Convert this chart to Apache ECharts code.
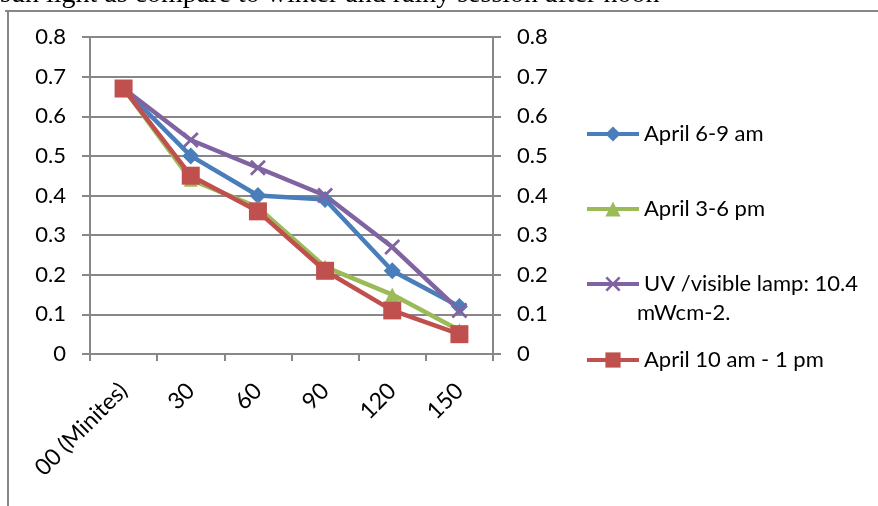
<!DOCTYPE html>
<html>
<head>
<meta charset="utf-8">
<script src="https://cdn.jsdelivr.net/npm/echarts@6/dist/echarts.min.js"></script>
<style>
html,body{margin:0;padding:0;background:#fff;}
#c{width:878px;height:506px;}
</style>
</head>
<body>
<div id="c"></div>
<script>
const categories = ['00 (Minites)', '30', '60', '90', '120', '150'];
const seriesNames = ['April 6-9 am', 'April 3-6 pm', 'UV /visible lamp: 10.4', 'April 10 am - 1 pm'];
const april69am = [0.67, 0.50, 0.40, 0.39, 0.21, 0.12];
const april36pm = [0.67, 0.44, 0.37, 0.22, 0.15, 0.06];
const uvLamp = [0.67, 0.54, 0.47, 0.40, 0.27, 0.11];
const april10am1pm = [0.67, 0.45, 0.36, 0.21, 0.11, 0.05];
const yMin = 0, yMax = 0.8, yStep = 0.1;
const headerText = 'sun light as compare to winter and rainy session after noon';
const uvSecondLine = 'mWcm-2.';

const FONT = 'Lato';
const GRAY = '#878787';
const xPath = 'path://M0,1.2 L1.2,0 L5,3.8 L8.8,0 L10,1.2 L6.2,5 L10,8.8 L8.8,10 L5,6.2 L1.2,10 L0,8.8 L3.8,5 Z';

const chart = echarts.init(document.getElementById('c'), null, {renderer: 'canvas'});

function mkSeries(name, data, color, symbol, size) {
  return {
    name: name, type: 'line', data: data,
    symbol: symbol, symbolSize: size,
    lineStyle: {color: color, width: 4.5},
    itemStyle: {color: color},
    animation: false
  };
}

function mkLegend(name, top) {
  return {
    data: [{name: name, lineStyle: {width: 4}}], left: 580, top: top, orient: 'vertical',
    itemWidth: 52, itemHeight: 19, selectedMode: false,
    lineStyle: {width: 4},
    textStyle: {fontFamily: FONT, fontSize: 22, color: '#000', lineHeight: 24}
  };
}

const yAxisCommon = {
  type: 'value', min: yMin, max: yMax, interval: yStep,
  axisLine: {show: true, lineStyle: {color: GRAY, width: 2}},
  axisTick: {show: true, length: 8, lineStyle: {color: GRAY, width: 2}},
  axisLabel: {
    fontFamily: FONT, fontSize: 22, color: '#000', margin: 24,
    formatter: v => (v === 0 ? '0' : v.toFixed(1))
  }
};

chart.setOption({
  animation: false,
  backgroundColor: '#fff',
  grid: {left: 90, right: 385, top: 37, bottom: 152, containLabel: false},
  xAxis: {
    type: 'category', data: categories, boundaryGap: true,
    axisLine: {lineStyle: {color: GRAY, width: 2}},
    axisTick: {show: true, length: 7, alignWithLabel: false, lineStyle: {color: GRAY, width: 2}},
    axisLabel: {rotate: 45, fontFamily: FONT, fontSize: 23, color: '#000', margin: 33, interval: 0},
    splitLine: {show: false}
  },
  yAxis: [
    Object.assign({}, yAxisCommon, {
      position: 'left',
      splitLine: {show: true, lineStyle: {color: GRAY, width: 2}}
    }),
    Object.assign({}, yAxisCommon, {
      position: 'right',
      splitLine: {show: false}
    })
  ],
  legend: [
    mkLegend(seriesNames[0], 117),
    mkLegend(seriesNames[1], 192),
    mkLegend(seriesNames[2], 267),
    mkLegend(seriesNames[3], 343)
  ],
  series: [
    mkSeries(seriesNames[0], april69am, '#4A7EBB', 'diamond', 17),
    mkSeries(seriesNames[1], april36pm, '#9BBB59', 'triangle', 14),
    mkSeries(seriesNames[2], uvLamp, '#8064A2', xPath, 16),
    mkSeries(seriesNames[3], april10am1pm, '#C0504D', 'rect', 18)
  ],
  graphic: [
    {type: 'text', left: 0, top: -19, style: {text: headerText, font: '28px "Liberation Serif"', fill: '#000'}},
    {type: 'line', shape: {x1: 5, y1: 11, x2: 878, y2: 11}, style: {stroke: GRAY, lineWidth: 2}},
    {type: 'line', shape: {x1: 8, y1: 11, x2: 8, y2: 506}, style: {stroke: GRAY, lineWidth: 2}},
    {type: 'text', left: 637, top: 302, style: {text: uvSecondLine, font: '22px Lato', fill: '#000'}}
  ]
});
</script>
</body>
</html>
